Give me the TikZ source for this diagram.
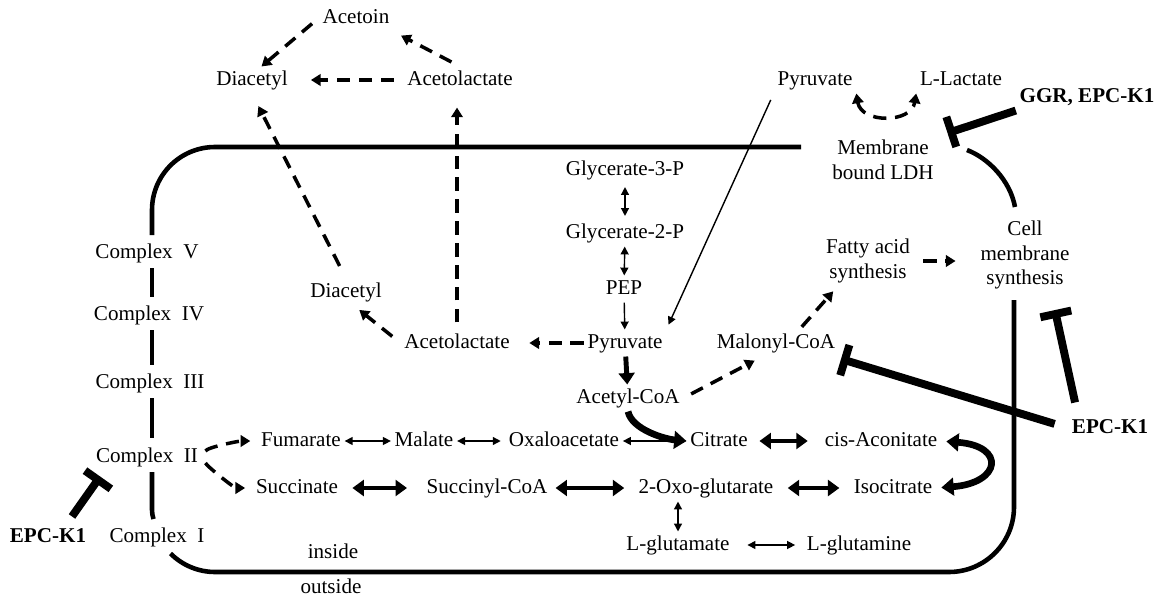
\documentclass[tikz,border=0pt]{standalone}
\usepackage{fontspec}
\setmainfont{Liberation Serif}
\usetikzlibrary{arrows.meta,calc}

\begin{document}
\begin{tikzpicture}[x=0.02cm, y=-0.02cm,
    every node/.style={font=\fontsize{12}{14}\selectfont, inner sep=2pt, text height=8.5pt, text depth=2.5pt},
    lines/.style={align=center, text height=, text depth=},
    drug/.style={font=\fontsize{12}{14}\selectfont\bfseries},
    membrane/.style={line width=2.6pt},
    dasharr/.style={line width=2pt, dash pattern=on 7.5pt off 5pt, -{Triangle[length=5.5pt,width=6.5pt]}},
    onearr/.style={line width=0.8pt, -{Triangle[length=4.5pt,width=4.5pt]}},
    twoarr/.style={onearr, {Triangle[length=4.5pt,width=4.5pt]}-{Triangle[length=4.5pt,width=4.5pt]}},
    bigone/.style={line width=2.8pt, -{Triangle[length=6.5pt,width=9pt]}},
    bigarr/.style={line width=2.8pt, {Triangle[length=6.5pt,width=9pt]}-{Triangle[length=6.5pt,width=9pt]}},
    bigcurve/.style={line width=3.8pt, -{Triangle[length=7pt,width=10pt]}},
    inhib/.style={line width=4.5pt, -{Bar[width=18pt]}}]
    \useasboundingbox (0,0) rectangle (1160,598);

    % --- Cell membrane ---
    \draw[membrane] (152,235) -- (152,210) .. controls (152,175.2) and (180.2,147) .. (215,147) -- (801,147); % top side
    \draw[membrane] (152,268) -- (152,297);
    \draw[membrane] (152,330) -- (152,365);
    \draw[membrane] (152,398) -- (152,438);
    \draw[membrane] (152,472) -- (152,510) .. controls (152,513) and (152.5,516) .. (153.5,519);
    \draw[membrane] (967,150) .. controls (988,158) and (1010,180) .. (1015,207); % near LDH
    \draw[membrane] (1014,300) -- (1014,507) .. controls (1014,542.9) and (984.9,572) .. (949,572)
        -- (215,572) .. controls (198.3,572) and (182.3,565.3) .. (170.5,553.5); % right and bottom

    % --- Outside ---
    \node (acetoin) at (356,18) {Acetoin};
    \node (diacetylO) at (252,80) {Diacetyl};
    \node (acetolactO) at (460,80) {Acetolactate};
    \node (pyruvateO) at (815,80) {Pyruvate};
    \node (lactate) at (961,80) {L-Lactate};
    \node[drug] (ggr) at (1087,97) {GGR, EPC-K1};
    \node[lines] (ldh) at (883,160) {Membrane\\bound LDH};
    \node[drug] (epcR) at (1110,428) {EPC-K1};
    \node[drug] (epcL) at (48,537) {EPC-K1};
    \node (outside) at (331,588) {outside};

    % --- Respiratory chain ---
    \node (cV) at (147,253) {Complex\ \ V};
    \node (cIV) at (149,315) {Complex\ \ IV};
    \node (cIII) at (150,383) {Complex\ \ III};
    \node (cII) at (147,457) {Complex\ \ II};
    \node (cI) at (157,537) {Complex\ \ I};

    % --- Inside ---
    \node (g3p) at (625,170) {Glycerate-3-P};
    \node (g2p) at (625,233) {Glycerate-2-P};
    \node (pep) at (624,289) {PEP};
    \node (pyruvate) at (625,343) {Pyruvate};
    \node (acetolact) at (457,343) {Acetolactate};
    \node (diacetyl) at (346,292) {Diacetyl};
    \node (malonyl) at (776,343) {Malonyl-CoA};
    \node[lines] (fatty) at (868,261) {Fatty acid\\synthesis};
    \node[lines] (cell) at (1025,255) {Cell\\membrane\\synthesis};
    \node (acetylcoa) at (628,398) {Acetyl-CoA};
    \node (fumarate) at (301,441) {Fumarate};
    \node (malate) at (424,441) {Malate};
    \node (oxalo) at (564,441) {Oxaloacetate};
    \node (citrate) at (719,441) {Citrate};
    \node (aconitate) at (881,441) {cis-Aconitate};
    \node (succinate) at (297,488) {Succinate};
    \node (succinyl) at (487,488) {Succinyl-CoA};
    \node (oxoglut) at (706,488) {2-Oxo-glutarate};
    \node (isocitrate) at (893,488) {Isocitrate};
    \node (glutamate) at (678,545) {L-glutamate};
    \node (glutamine) at (859,545) {L-glutamine};
    \node (inside) at (333,553) {inside};

    % --- Acetoin pathway ---
    \draw[dasharr, shorten <=5pt] (acetoin.west) -- (diacetylO.55);
    \draw[dasharr, shorten <=5.5pt, shorten >=5pt] (acetolactO.north) -- (acetoin.south east);
    \draw[dasharr, shorten <=5.5pt, shorten >=11pt] (acetolactO) -- (diacetylO);
    \draw[dasharr, shorten <=8pt, shorten >=8pt] (diacetyl.north) -- (diacetylO.south);
    \draw[dasharr, shorten <=4pt, shorten >=8pt] (acetolact.north) -- (acetolact.north |- acetolactO.south);
    \draw[dasharr, shorten <=6pt, shorten >=4pt] (acetolact.west) -- (diacetyl.-60);
    \draw[dasharr, shorten >=9pt] (pyruvate) -- (acetolact);

    % --- Pyruvate and lactate ---
    \draw[onearr, shorten <=4pt, shorten >=3pt] (pyruvateO.south west) -- (pyruvate.north east);
    \draw[dasharr, {Triangle[length=5.5pt,width=6.5pt]}-{Triangle[length=5.5pt,width=6.5pt]}]
        (pyruvateO.south east) .. controls +(5,30) and +(-5,30) .. (lactate.south west);

    % --- Glycolysis ---
    \draw[twoarr, shorten <=2pt, shorten >=2pt] (g3p) -- (g2p);
    \draw[twoarr] (g2p) -- (pep);
    \draw[onearr] (pep) -- (pyruvate);
    \draw[bigone] (pyruvate) -- (acetylcoa);

    % --- Fatty acids ---
    \draw[dasharr, shorten <=5pt, shorten >=5pt] (acetylcoa.east) -- (malonyl.-135);
    \draw[dasharr, shorten <=2pt, shorten >=3.5pt] (malonyl.30) -- (fatty.220);
    \draw[dasharr, shorten <=5.5pt, shorten >=12pt] (fatty.east) -- (fatty.east -| cell.west);

    % --- TCA cycle ---
    \draw[dasharr, shorten <=4pt, shorten >=4pt] (cII.east) .. controls +(6,-10) and +(-18,0) .. (fumarate.west);
    \draw[dasharr, shorten <=4pt, shorten >=4pt] (cII.east) .. controls +(6,10) and +(-18,0) .. (succinate.west);
    \draw[twoarr] (fumarate) -- (malate);
    \draw[twoarr, shorten >=2.5pt] (malate) -- (oxalo);
    \draw[twoarr] (oxalo) -- (citrate);
    \draw[bigcurve] (acetylcoa.south) .. controls +(4,18) and +(-22,-2) .. (citrate.west);
    \draw[bigarr, shorten <=4.5pt, shorten >=7.5pt] (citrate) -- (aconitate);
    \draw[bigcurve, {Triangle[length=7pt,width=10pt]}-{Triangle[length=7pt,width=10pt]}, shorten <=3pt, shorten >=3pt]
        (aconitate.east) .. controls +(65,5) and +(65,-5) .. (isocitrate.east);
    \draw[bigarr, shorten <=6pt, shorten >=6pt] (oxoglut) -- (isocitrate);
    \draw[bigarr, shorten <=2.5pt, shorten >=6pt] (succinyl) -- (oxoglut);
    \draw[bigarr, shorten <=6pt, shorten >=9pt] (succinate) -- (succinyl);
    \draw[twoarr] (glutamate.north |- oxoglut.south) -- (glutamate.north);
    \draw[twoarr, shorten <=8pt, shorten >=4.5pt] (glutamate) -- (glutamine);

    % --- Inhibitors ---
    \draw[inhib, shorten >=6pt] (ggr.south west) -- (ldh.north east);
    \draw[inhib, shorten <=8pt] (epcR.west) -- ($(malonyl.east)+(2,16)$);
    \draw[inhib] ($(epcR.north west)+(7,-12)$) -- ($(cell.-60)+(8,17)$);
    \draw[inhib] ($(epcL.north)+(24,-7)$) -- ($(cII.south west)+(8,6)$);

\end{tikzpicture}
\end{document}
